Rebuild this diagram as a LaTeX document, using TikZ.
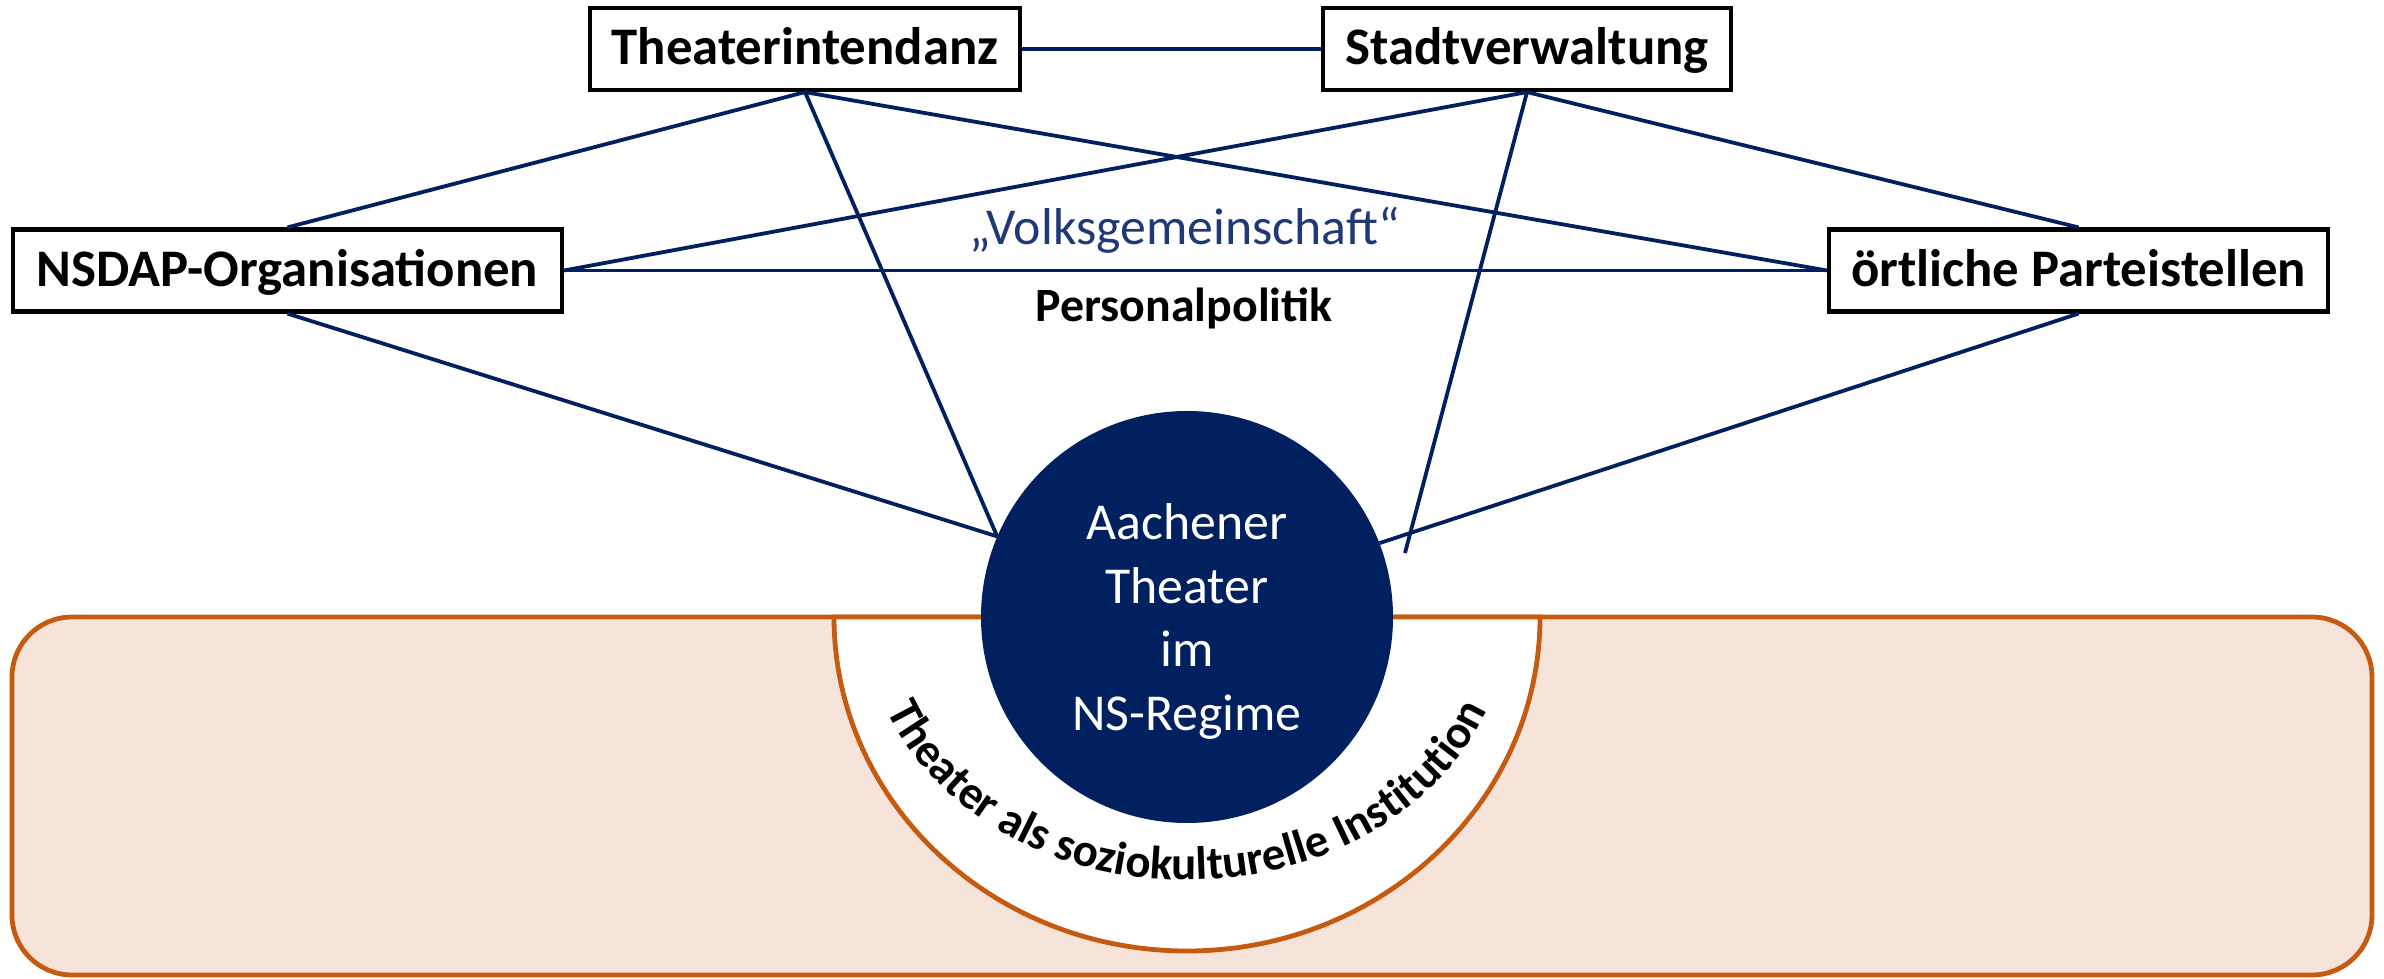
\documentclass[tikz,border=0pt]{standalone}
\usepackage{fontspec}
\setmainfont{Carlito}
\usetikzlibrary{decorations.text}
\definecolor{navy}{HTML}{002060}
\definecolor{vgblue}{HTML}{203878}
\definecolor{orng}{HTML}{C55A11}
\definecolor{peach}{HTML}{F6E4DA}
\tikzset{
  box/.style={draw=black, line width=4.2bp, fill=white, rectangle, minimum height=82bp,
    inner sep=0pt, text height=40bp, text depth=8bp, font=\fontsize{53}{62}\selectfont\bfseries},
  conn/.style={draw=navy, line width=3.8bp},
  frame/.style={draw=orng, line width=4.8bp},
}
\begin{document}
\begin{tikzpicture}[x=1bp,y=1bp]
\useasboundingbox (0,0) rectangle (2384,978);
% base field
\draw[frame, fill=peach, rounded corners=60bp] (12,3) rectangle (2372,361);
\draw[frame, fill=white] (834,361) arc[start angle=180, end angle=360, x radius=353, y radius=334] -- cycle;
% arc text
\path[decorate, decoration={text along path, text align=center,
  text={|\fontsize{47}{56}\selectfont\bfseries|Theater als soziokulturelle Institution}}]
  (870.9,315.3) arc[start angle=190, end angle=350, x radius=321, y radius=263];
% center circle
\node[circle, fill=navy, minimum size=412bp, inner sep=0pt] (c) at (1187,361) {};
\node[text=white, align=center, font=\fontsize{52}{64}\selectfont] (ct) at (1187,356.5)
  {Aachener\\Theater\\im\\NS-Regime};
% boxes
\node[box, minimum width=430bp] (ti) at (805,929) {Theaterintendanz};
\node[box, minimum width=408bp] (sv) at (1527,929) {Stadtverwaltung};
\node[box, minimum width=549bp] (ns) at (287.5,707.5) {NSDAP-Organisationen};
\node[box, minimum width=499bp] (op) at (2078.5,707.5) {örtliche Parteistellen};
\coordinate (svend) at (1405,425);
% connectors
\draw[conn] (ti.east) -- (sv.west);
\draw[conn] (ti.south) -- (ns.north);
\draw[conn] (ti.south) -- (op.west);
\draw[conn] (ti.south) -- (c.157.5);
\draw[conn] (sv.south) -- (ns.east);
\draw[conn] (sv.south) -- (op.north);
\draw[conn] (sv.south) -- (svend);
\draw[conn] (ns.east) -- (op.west);
\draw[conn] (ns.south) -- (c.157.5);
\draw[conn] (op.south) -- (c.21);
% labels
\node[anchor=base, text=vgblue, font=\fontsize{52}{62}\selectfont] (vg) at (1185,733) {„Volksgemeinschaft“};
\node[anchor=base, font=\fontsize{48}{56}\selectfont\bfseries] (pp) at (1184,656) {Personalpolitik};
\end{tikzpicture}
\end{document}
